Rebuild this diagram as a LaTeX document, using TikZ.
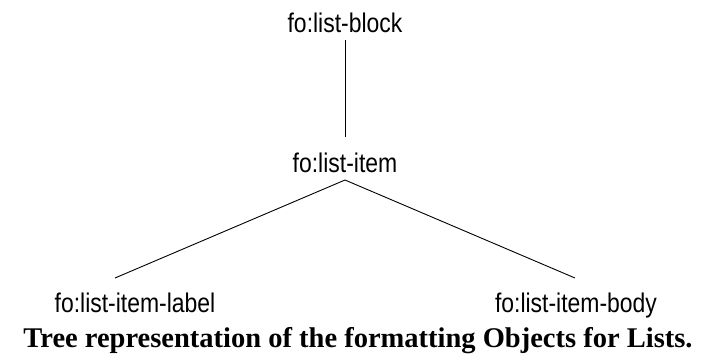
\documentclass[tikz,border=0pt]{standalone}
\usepackage{fontspec}
\setmainfont{Liberation Serif}
\newfontfamily\labfont{Liberation Sans}
\begin{document}
\begin{tikzpicture}[x=1pt,y=-1pt,
  lbl/.style={anchor=base,inner sep=0pt,font=\labfont\fontsize{27}{27}\selectfont},
  edge/.style={line width=0.9pt}]
\useasboundingbox (0,0) rectangle (702,360);
\node[lbl] (block) at (345,32) {\scalebox{0.85}[1]{fo:list-block}};
\node[lbl] (item) at (345,172) {\scalebox{0.85}[1]{fo:list-item}};
\node[lbl] (label) at (135,312) {\scalebox{0.85}[1]{fo:list-item-label}};
\node[lbl] (body) at (576,312) {\scalebox{0.85}[1]{fo:list-item-body}};
\node[anchor=base,inner sep=0pt,font=\bfseries\fontsize{28.5}{28.5}\selectfont] (cap) at (358,347) {Tree representation of the formatting Objects for Lists.};
\coordinate (top) at (345,40);
\coordinate (bot) at (345,137);
\coordinate (apex) at (345,180);
\coordinate (lend) at (115,278);
\coordinate (rend) at (575,278);
\draw[edge] (top) -- (bot);
\draw[edge] (apex) -- (lend);
\draw[edge] (apex) -- (rend);
\end{tikzpicture}
\end{document}
